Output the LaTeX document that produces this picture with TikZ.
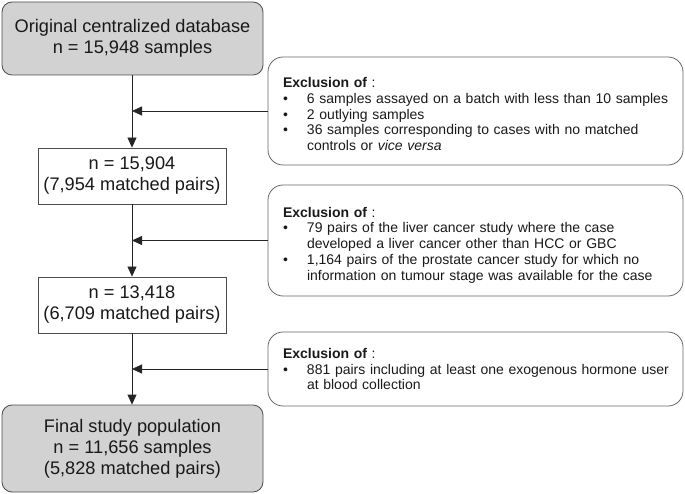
\documentclass[tikz,border=0pt]{standalone}
\usepackage{fontspec}
\setmainfont{Liberation Sans}
\usetikzlibrary{arrows.meta}
\newcommand{\exhead}{\multicolumn{2}{@{}l@{}}{{\bfseries Exclusion of} :}}
\newcommand{\exlower}[2]{\raisebox{-#1}[\height][\depth]{#2}}
\begin{document}
\begin{tikzpicture}[x=1pt,y=-1pt,
  mainbox/.style={draw=black!70, line width=0.8pt, text=black!90,
    font=\fontsize{18.2}{21}\selectfont, align=center, inner sep=0pt},
  graybox/.style={mainbox, fill=gray!35, rounded corners=10pt},
  whitebox/.style={mainbox, fill=white},
  exbox/.style={draw=black!60, line width=0.8pt, rounded corners=15pt, text=black!90,
    font=\fontsize{14.0}{15.8}\selectfont,
    text width=385pt, inner xsep=15pt, inner ysep=0pt},
  conn/.style={draw=black!85, line width=0.8pt},
  arr/.style={conn, -{Triangle[length=10pt,width=9pt]}}
]
\useasboundingbox (0,0) rectangle (685,494);

\node[graybox, minimum width=261pt, minimum height=73pt] (b1) at (132.5,38.5)
  {Original centralized database\\n = 15,948 samples};
\node[whitebox, minimum width=188pt, minimum height=56pt] (b2) at (132,176)
  {n = 15,904\\(7,954 matched pairs)};
\node[whitebox, minimum width=188pt, minimum height=56pt] (b3) at (132,305)
  {n = 13,418\\(6,709 matched pairs)};
\node[graybox, minimum width=261pt, minimum height=87pt] (b4) at (132.5,448.5)
  {Final study population\\n = 11,656 samples\\(5,828 matched pairs)};

\node[exbox, minimum height=108pt] (e1) at (475.5,111)
  {\noindent\exlower{5pt}{\begin{tabular}{@{}p{24pt}@{}l@{}}
   \exhead\\
   \textbullet & 6 samples assayed on a batch with less than 10 samples\\
   \textbullet & 2 outlying samples\\
   \textbullet & 36 samples corresponding to cases with no matched\\
   & controls or \textit{vice versa}
   \end{tabular}}};
\node[exbox, minimum height=111pt] (e2) at (475.5,240.5)
  {\noindent\exlower{5pt}{\begin{tabular}{@{}p{24pt}@{}l@{}}
   \exhead\\
   \textbullet & 79 pairs of the liver cancer study where the case\\
   & developed a liver cancer other than HCC or GBC\\
   \textbullet & 1,164 pairs of the prostate cancer study for which no\\
   & information on tumour stage was available for the case
   \end{tabular}}};
\node[exbox, minimum height=74pt] (e3) at (475.5,369)
  {\noindent\exlower{2pt}{\begin{tabular}{@{}p{24pt}@{}l@{}}
   \exhead\\
   \textbullet & 881 pairs including at least one exogenous hormone user\\
   & at blood collection
   \end{tabular}}};

\coordinate (j1) at (132,111);
\coordinate (j2) at (132,240.5);
\coordinate (j3) at (132,369);

\draw[arr] (b1.south -| j1) -- (b2.north);
\draw[arr] (b2.south) -- (b3.north);
\draw[arr] (b3.south) -- (b4.north -| j3);
\draw[arr] (e1.west) -- (j1);
\draw[arr] (e2.west) -- (j2);
\draw[arr] (e3.west) -- (j3);
\end{tikzpicture}
\end{document}
